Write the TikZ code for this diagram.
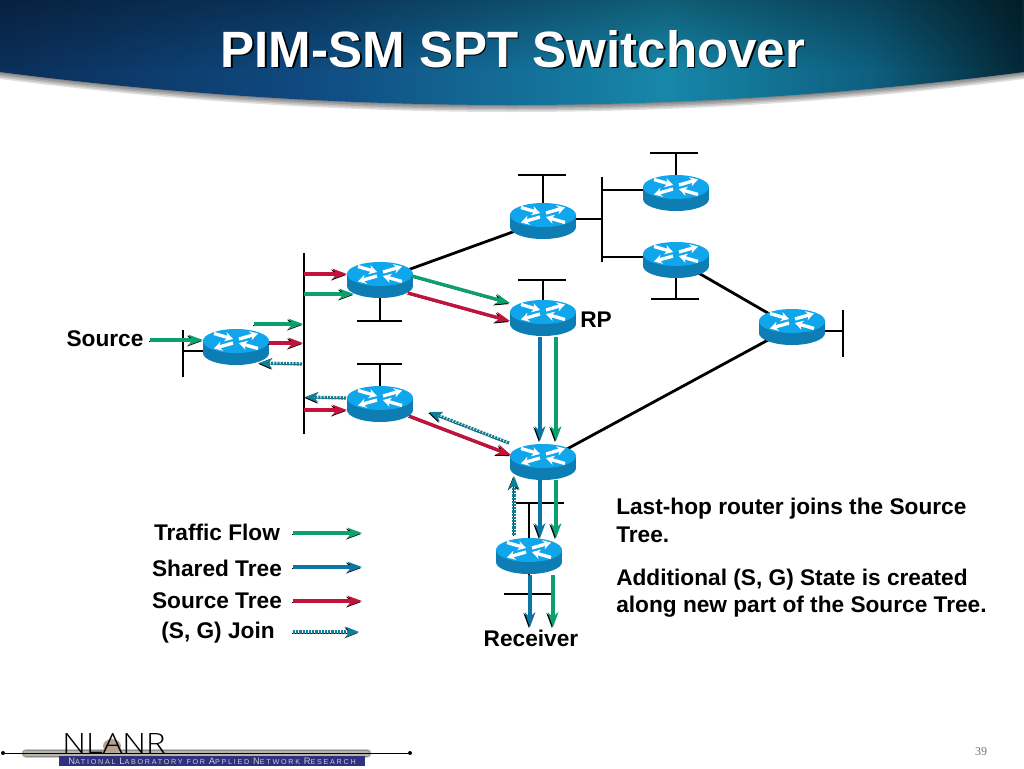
\documentclass[tikz,border=0pt]{standalone}
\usepackage{fontspec}
\setmainfont{Liberation Sans}
\newfontfamily\pagefont{Liberation Serif}
\newfontfamily\logofont{Open Sans Light}
\newfontfamily\bannerfont[LetterSpace=24]{Liberation Sans}
\usetikzlibrary{arrows.meta,backgrounds,fadings,shapes.geometric}

\definecolor{routertop}{HTML}{10A6EC}
\definecolor{routerside}{HTML}{0D7DB4}
\definecolor{flowgreen}{HTML}{0BA06E}
\definecolor{flowblue}{HTML}{0E76A6}
\definecolor{flowred}{HTML}{C0143C}
\definecolor{flowteal}{HTML}{0F7F96}
\definecolor{bannerblue}{HTML}{30307E}
\definecolor{headA}{HTML}{0B2F5A}
\definecolor{headB}{HTML}{0F4A80}
\definecolor{headC}{HTML}{1787A8}
\definecolor{headD}{HTML}{0E5F80}
\definecolor{headE}{HTML}{042837}
\pgfdeclarehorizontalshading{headglow}{100bp}{%
  color(0bp)=(headA);
  color(25bp)=(headA);
  color(40bp)=(headB);
  color(57.5bp)=(headC);
  color(67.5bp)=(headD);
  color(75bp)=(headE);
  color(100bp)=(headE)}
\newcommand{\bannerword}[2]{{\fontsize{7}{7}\selectfont #1}#2}

\tikzset{
  router/.style={ellipse,minimum width=49.5pt,minimum height=27pt,inner sep=0pt,outer sep=0pt},
  routerarrow/.style={white,line width=2.5pt,-{Stealth[length=6pt,width=7pt]}},
  link/.style={line width=2.1pt,draw=black},
  flow/.style={line width=2.5pt,-{Stealth[length=11pt,width=8pt]},
    preaction={draw=black,transform canvas={xshift=-0.8pt,yshift=-0.8pt}}},
  trafficflow/.style={flow,draw=flowgreen},
  sharedtree/.style={flow,draw=flowblue},
  sourcetree/.style={flow,draw=flowred},
  sgjoin/.style={line width=2.5pt,draw=flowteal,dash pattern=on 1.6pt off 0.8pt,
    -{Stealth[length=10pt,width=8pt]},
    preaction={draw=black,transform canvas={xshift=-0.6pt,yshift=-0.6pt}}},
  label/.style={font=\fontsize{17}{20}\selectfont\bfseries,inner sep=0pt}
}

\begin{document}
\begin{tikzpicture}[x=0.75pt,y=-0.75pt]
\useasboundingbox (0,0) rectangle (1024,768);

% header band
\foreach \d in {7,5.5,4,2.5,1}
  \fill[black,opacity=0.12] (0,0) -- (1024,0) -- (1024,72+\d) .. controls (683,116+\d) and (341,116+\d) .. (0,72+\d) -- cycle;
\begin{scope}
  \clip (0,0) -- (1024,0) -- (1024,72) .. controls (683,116) and (341,116) .. (0,72) -- cycle;
  \shade[shading=headglow] (0,0) rectangle (1024,116);
  \fill[black,opacity=0.3,path fading=south] (0,0) rectangle (1024,70);
\end{scope}
\node[font=\fontsize{38.3}{44}\selectfont\bfseries,text=black,inner sep=0pt] (titleshadow) at (514.5,50.5) {PIM-SM SPT Switchover};
\node[font=\fontsize{38.3}{44}\selectfont\bfseries,text=white,inner sep=0pt] (title) at (513,49) {PIM-SM SPT Switchover};

% routers
\foreach \n/\x/\y in {rsrc/236/347,rupper/380/280,rlower/380/404,rrp/543/318,rtop/543/221,
    rnorth/676/193,reast/676/260,rfar/792/327,rlast/543/462,rrecv/529/556} {
  \node[router] (\n) at (\x,\y) {};
  \fill[routerside] (\x,\y+6) ellipse [x radius=33,y radius=12];
  \fill[routerside] (\x-33,\y-6) rectangle (\x+33,\y+6);
  \fill[routertop] (\x,\y-6) ellipse [x radius=33,y radius=12];
  \draw[routerarrow] (\x-22,\y-13.5) -- (\x-3,\y-8);
  \draw[routerarrow] (\x+3,\y-8) -- (\x+22,\y-13.5);
  \draw[routerarrow] (\x-3,\y-4) -- (\x-22,\y+1.5);
  \draw[routerarrow] (\x+22,\y+1.5) -- (\x+3,\y-4);
}

% segments and stubs
\coordinate (mainbarN) at (304,253);
\coordinate (mainbarS) at (304,434);
\coordinate (srcbarN) at (183,330);
\coordinate (srcbarS) at (183,377);
\coordinate (srcstub) at (183,351);
\coordinate (upperL) at (357,321);
\coordinate (upperR) at (402,321);
\coordinate (upperM) at (380,321);
\coordinate (lowerL) at (357,364);
\coordinate (lowerR) at (402,364);
\coordinate (lowerM) at (380,364);
\coordinate (rpL) at (518,280);
\coordinate (rpR) at (566,280);
\coordinate (rpM) at (543,280);
\coordinate (topL) at (518,175);
\coordinate (topR) at (566,175);
\coordinate (topM) at (543,175);
\coordinate (forkN) at (602,177);
\coordinate (forkS) at (602,262);
\coordinate (forkT) at (602,219);
\coordinate (forkA) at (602,190);
\coordinate (forkB) at (602,257);
\coordinate (northL) at (650,153);
\coordinate (northR) at (698,153);
\coordinate (northM) at (676,153);
\coordinate (eastL) at (651,299);
\coordinate (eastR) at (699,299);
\coordinate (eastM) at (676,299);
\coordinate (farN) at (843,310);
\coordinate (farS) at (843,357);
\coordinate (farM) at (843,331);
\coordinate (lastL) at (516,503);
\coordinate (lastR) at (564,503);
\coordinate (lastM) at (529,503);
\coordinate (recvL) at (504,594);
\coordinate (recvR) at (552,594);
\coordinate (recvM) at (529,594);
\begin{scope}[on background layer]
\draw[link] (mainbarN) -- (mainbarS);
\draw[link] (srcbarN) -- (srcbarS);
\draw[link] (srcstub) -- (srcstub -| rsrc.center);
\draw[link] (upperL) -- (upperR);
\draw[link] (rupper) -- (upperM);
\draw[link] (lowerL) -- (lowerR);
\draw[link] (rlower) -- (lowerM);
\draw[link] (rpL) -- (rpR);
\draw[link] (rrp) -- (rpM);
\draw[link] (topL) -- (topR);
\draw[link] (rtop) -- (topM);
\draw[link] (forkN) -- (forkS);
\draw[link] (forkT) -- (forkT -| rtop.center);
\draw[link] (forkA) -- (forkA -| rnorth.center);
\draw[link] (forkB) -- (forkB -| reast.center);
\draw[link] (northL) -- (northR);
\draw[link] (rnorth) -- (northM);
\draw[link] (eastL) -- (eastR);
\draw[link] (reast) -- (eastM);
\draw[link] (farN) -- (farS);
\draw[link] (farM) -- (farM -| rfar.center);
\draw[link] (lastL) -- (lastR);
\draw[link] (rrecv) -- (lastM);
\draw[link] (recvL) -- (recvR);
\draw[link] (rrecv) -- (recvM);
\draw[link] (rupper) -- (rtop);
\draw[link] (reast) -- (rfar);
\draw[link] (rfar) -- (rlast);
\end{scope}

% traffic flow
\coordinate (tfa) at (150,340);
\coordinate (tfb) at (203,340);
\coordinate (tfc) at (254,324);
\coordinate (tfd) at (303,324);
\coordinate (tfe) at (304,294);
\coordinate (tff) at (354,294);
\coordinate (tfg) at (412,276);
\coordinate (tfh) at (510,303);
\coordinate (tfi) at (556,337);
\coordinate (tfj) at (556,441);
\coordinate (tfk) at (556,480);
\coordinate (tfl) at (556,538);
\coordinate (tfm) at (553,575);
\coordinate (tfn) at (553,627);
\draw[trafficflow] (tfa) -- (tfb);
\draw[trafficflow] (tfc) -- (tfd);
\draw[trafficflow] (tfe) -- (tff);
\draw[trafficflow] (tfg) -- (tfh);
\draw[trafficflow] (tfi) -- (tfj);
\draw[trafficflow] (tfk) -- (tfl);
\draw[trafficflow] (tfm) -- (tfn);

% shared tree
\coordinate (sha) at (540,337);
\coordinate (shb) at (540,441);
\coordinate (shc) at (540,480);
\coordinate (shd) at (540,538);
\coordinate (she) at (530,575);
\coordinate (shf) at (530,627);
\draw[sharedtree] (sha) -- (shb);
\draw[sharedtree] (shc) -- (shd);
\draw[sharedtree] (she) -- (shf);

% source tree
\coordinate (sta) at (269,343);
\coordinate (stb) at (303,343);
\coordinate (stc) at (304,274);
\coordinate (std) at (347,274);
\coordinate (ste) at (304,410);
\coordinate (stf) at (347,410);
\coordinate (stg) at (408,293);
\coordinate (sth) at (510,321);
\coordinate (sti) at (409,416);
\coordinate (stj) at (511,455);
\draw[sourcetree] (sta) -- (stb);
\draw[sourcetree] (stc) -- (std);
\draw[sourcetree] (ste) -- (stf);
\draw[sourcetree] (stg) -- (sth);
\draw[sourcetree] (sti) -- (stj);

% (S, G) join
\coordinate (jna) at (302,364);
\coordinate (jnb) at (259,363);
\coordinate (jnc) at (346,398);
\coordinate (jnd) at (305,397);
\coordinate (jne) at (509,443);
\coordinate (jnf) at (429,412);
\coordinate (jng) at (514,535);
\coordinate (jnh) at (514,476);
\draw[sgjoin] (jna) -- (jnb);
\draw[sgjoin] (jnc) -- (jnd);
\draw[sgjoin] (jne) -- (jnf);
\draw[sgjoin] (jng) -- (jnh);

% labels
\node[label] (source) at (105,339) {Source};
\node[label] (rp) at (596,320) {RP};
\node[label] (receiver) at (531,638.5) {Receiver};
\node[label,anchor=base west] (note1a) at (616,514) {Last-hop router joins the Source};
\node[label,anchor=base west] (note1b) at (616,542) {Tree.};
\node[label,anchor=base west] (note2a) at (616,585) {Additional (S, G) State is created};
\node[label,anchor=base west] (note2b) at (616,612) {along new part of the Source Tree.};

% legend
\node[label] (legtraffic) at (217,532.5) {Traffic Flow};
\node[label] (legshared) at (217,568) {Shared Tree};
\node[label] (legsource) at (217,601) {Source Tree};
\node[label] (legjoin) at (218,633) {(S, G) Join};
\coordinate (lga) at (293,533);
\coordinate (lgb) at (362,533);
\coordinate (lgc) at (293,567);
\coordinate (lgd) at (362,567);
\coordinate (lge) at (293,601);
\coordinate (lgf) at (362,601);
\coordinate (lgg) at (293,632);
\coordinate (lgh) at (359,632);
\draw[trafficflow] (lga) -- (lgb);
\draw[sharedtree] (lgc) -- (lgd);
\draw[sourcetree] (lge) -- (lgf);
\draw[sgjoin] (lgg) -- (lgh);

% footer
\foreach \w/\c in {9/black!22,7/black!45,5/black!30!yellow!15!gray!70}
  \draw[line width=\w*0.75pt,line cap=round,draw=\c] (26,753) -- (367,753);
\node[circle,fill=black,minimum size=3pt,inner sep=0pt] (dotL) at (3,753) {};
\node[circle,fill=black,minimum size=3pt,inner sep=0pt] (dotR) at (410,753) {};
\draw[black,line width=0.7pt] (dotL) -- (dotR);
\fill[black!45!brown!50!white] (112,746) ellipse [x radius=9,y radius=7];
\node[font=\logofont\fontsize{21}{21}\selectfont,inner sep=0pt,anchor=base] (logo) at (114,753) {\scalebox{1.17}[1]{NLANR}};
\fill[bannerblue] (59,756) rectangle (365,766);
\node[font=\bannerfont\fontsize{5.4}{7}\selectfont,text=black!20,inner sep=0pt] (banner) at (212,761) {\bannerword{N}{ATIONAL} \bannerword{L}{ABORATORY} FOR \bannerword{A}{PPLIED} \bannerword{N}{ETWORK} \bannerword{R}{ESEARCH}};
\node[font=\pagefont\fontsize{9}{10}\selectfont,text=black!55,inner sep=0pt] (pagenum) at (981,752) {39};
\end{tikzpicture}
\end{document}
